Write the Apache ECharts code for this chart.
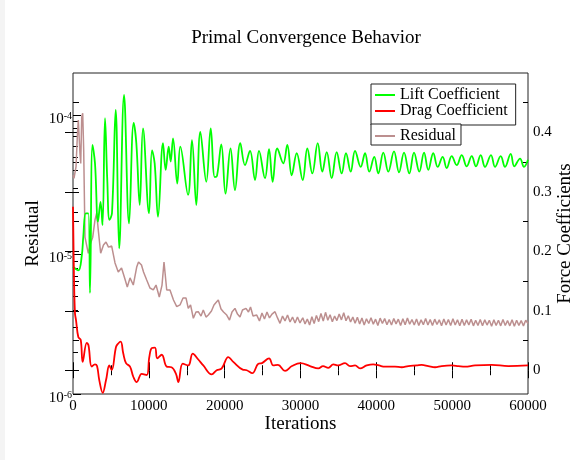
<!DOCTYPE html>
<html>
<head>
<meta charset="utf-8">
<script src="https://cdn.jsdelivr.net/npm/echarts@6/dist/echarts.min.js"></script>
<style>
  html, body { margin: 0; padding: 0; }
  body { background: linear-gradient(to right, #f4f4f4 5px, #ffffff 5px); }
  #chart { width: 571px; height: 460px; }
</style>
</head>
<body>
<div id="chart"></div>
<script>
// Lift coefficient history [iteration, CL]
const liftCoefficient = [
  [0,0.174],[700,0.168],[1150,0.192],[1360,0.225],[1680,0.264],[2020,0.264],[2240,0.130],[2570,0.379],
  [2900,0.348],[3300,0.250],[3630,0.283],[3890,0.244],[4220,0.424],[4520,0.320],[4810,0.253],[5140,0.264],
  [5630,0.438],[6090,0.205],[6730,0.463],[7390,0.247],[8000,0.416],[8350,0.382],[8800,0.278],[9230,0.407],
  [10020,0.264],[10420,0.370],[10770,0.348],[11210,0.258],[11870,0.382],[12220,0.337],[12620,0.376],[12880,0.351],
  [13190,0.390],[13750,0.314],[14150,0.376],[15170,0.295],[15690,0.387],[16260,0.278],[16790,0.401],[17580,0.317],
  [18160,0.407],[18690,0.325],[18990,0.327],[19560,0.380],[20110,0.297],[20770,0.373],[21360,0.303],[22060,0.382],
  [22680,0.345],[23340,0.369],[24000,0.320],[24530,0.369],[25320,0.323],[25850,0.372],[26330,0.317],[26940,0.373],
  [27730,0.348],[28260,0.379],[28840,0.328],[29500,0.365],[30290,0.320],[30900,0.373],[31560,0.331],[32270,0.382],
  [32880,0.334],[33460,0.367],[34110,0.323],[34770,0.367],[35430,0.331],[36000,0.365],[36620,0.334],[37190,0.369],
  [37940,0.342],[38510,0.365],[39070,0.334],[39730,0.359],[40260,0.331],[40920,0.366],[41580,0.334],[42330,0.368],
  [42990,0.333],[43650,0.366],[44350,0.331],[44970,0.366],[45670,0.334],[46290,0.366],[46850,0.337],[47510,0.365],
  [48090,0.342],[48750,0.359],[49280,0.340],[49940,0.360],[50600,0.345],[51260,0.362],[51920,0.343],[52580,0.360],
  [53140,0.343],[53760,0.362],[54330,0.342],[55120,0.362],[55650,0.342],[56400,0.360],[56970,0.342],[57720,0.364],
  [58190,0.343],[58950,0.356],[59470,0.342],[60000,0.354]
];

// Drag coefficient history [iteration, CD]
const dragCoefficient = [
  [0,0.275],[130,0.157],[260,0.096],[400,0.084],[700,0.056],[1020,0.051],[1280,0.014],[1810,0.046],
  [2040,0.042],[2470,0.006],[2900,0.010],[3170,0.007],[3470,-0.017],[3920,-0.038],[4350,-0.017],[4790,0.008],
  [5100,0.000],[5670,0.039],[5970,0.045],[6290,0.048],[6630,0.028],[6990,0.012],[7520,0.006],[7950,-0.011],
  [8400,-0.020],[9060,-0.006],[9720,-0.008],[10060,0.022],[10380,0.037],[10810,0.038],[11120,0.020],[11700,0.026],
  [12360,0.006],[12990,0.005],[13580,-0.006],[13890,-0.020],[14470,0.011],[15200,0.008],[15790,0.028],[16520,0.018],
  [17180,0.008],[18290,-0.007],[18950,0.000],[19610,0.003],[20480,0.022],[21140,0.014],[22380,0.001],[22910,0.000],
  [23640,-0.005],[24440,0.011],[24920,0.012],[25850,0.020],[26410,0.008],[27030,0.009],[27960,-0.001],[28880,0.007],
  [30000,0.012],[31250,0.007],[32350,0.003],[32970,0.007],[33670,0.004],[34330,0.010],[34950,0.008],[35870,0.012],
  [36530,0.007],[37190,0.008],[37850,0.003],[38730,0.008],[39600,0.010],[40350,0.008],[41140,0.006],[42460,0.006],
  [43350,0.005],[44220,0.007],[45320,0.008],[45980,0.009],[46850,0.007],[47740,0.005],[48620,0.007],[49940,0.008],
  [50810,0.007],[51690,0.006],[53010,0.008],[55210,0.009],[57400,0.007],[60000,0.008]
];

// Residual history [iteration, residual]
const residual = [
  [0,3.70e-5],[130,3.52e-5],[400,4.26e-5],[570,6.99e-5],[700,9.2e-5],[920,5.3e-5],[1020,4.5e-5],[1150,9.7e-5],
  [1280,1.03e-4],[1410,5.6e-5],[1580,1.33e-5],[2020,1.02e-5],[2330,1.21e-5],[2600,1.33e-5],[2900,1.77e-5],[3120,1.98e-5],
  [3360,1.45e-5],[3650,1.02e-5],[4020,1.17e-5],[4350,1.23e-5],[4680,1.13e-5],[5100,1.15e-5],[5540,8.7e-6],[5970,7.5e-6],
  [6400,8.0e-6],[6770,6.9e-6],[7160,5.85e-6],[7520,6.8e-6],[7950,6.04e-6],[8400,8.13e-6],[8640,8.84e-6],[9030,8.41e-6],
  [9300,7.5e-6],[9720,6.56e-6],[10150,5.75e-6],[10590,5.57e-6],[10950,6.04e-6],[11380,4.96e-6],[11740,6.04e-6],[12000,8.84e-6],
  [12360,5.57e-6],[12790,5.57e-6],[13250,4.72e-6],[13680,4.23e-6],[14110,4.35e-6],[14510,4.88e-6],[14900,4.88e-6],[15200,4.11e-6],
  [15500,4.35e-6],[15870,3.49e-6],[16220,3.87e-6],[16520,3.89e-6],[16880,3.62e-6],[17180,4.00e-6],[17540,3.56e-6],[17840,3.68e-6],
  [18260,3.94e-6],[18590,4.35e-6],[18920,4.56e-6],[19160,4.72e-6],[19520,4.07e-6],[19850,3.87e-6],[20270,3.68e-6],[20640,3.39e-6],
  [20970,3.87e-6],[21360,4.11e-6],[21690,3.74e-6],[22020,3.56e-6],[22350,4.00e-6],[22810,4.11e-6],[23140,3.87e-6],[23410,4.20e-6],
  [23740,3.62e-6],[24230,3.68e-6],[24590,3.34e-6],[24920,3.81e-6],[25250,3.45e-6],[25580,3.87e-6],[25910,3.51e-6],[26240,3.74e-6],
  [26640,3.89e-6],[26970,3.51e-6],[27300,3.21e-6],[27630,3.62e-6],[27960,3.34e-6],[28290,3.68e-6],[28620,3.28e-6],[28950,3.56e-6],
  [29280,3.23e-6],[29600,3.56e-6],[29930,3.23e-6],[30300,3.52e-6],[30600,3.18e-6],[30900,3.45e-6],[31200,3.12e-6],[31500,3.58e-6],
  [31800,3.20e-6],[32100,3.66e-6],[32400,3.30e-6],[32700,3.78e-6],[33000,3.34e-6],[33300,3.85e-6],[33600,3.38e-6],[33900,3.70e-6],
  [34200,3.30e-6],[34500,3.62e-6],[34800,3.36e-6],[35100,3.74e-6],[35400,3.40e-6],[35700,3.82e-6],[36000,3.35e-6],[36300,3.64e-6],
  [36600,3.28e-6],[36900,3.56e-6],[37200,3.22e-6],[37500,3.55e-6],[37800,3.18e-6],[38100,3.50e-6],[38400,3.12e-6],[38700,3.46e-6],
  [39000,3.20e-6],[39300,3.52e-6],[39600,3.16e-6],[39900,3.44e-6],[40200,3.10e-6],[40500,3.50e-6],[40800,3.20e-6],[41100,3.47e-6],
  [41400,3.14e-6],[41700,3.42e-6],[42000,3.12e-6],[42300,3.48e-6],[42600,3.18e-6],[42900,3.44e-6],[43200,3.10e-6],[43500,3.46e-6],
  [43800,3.14e-6],[44100,3.50e-6],[44400,3.16e-6],[44700,3.42e-6],[45000,3.12e-6],[45300,3.45e-6],[45600,3.10e-6],[45900,3.40e-6],
  [46200,3.14e-6],[46500,3.48e-6],[46800,3.12e-6],[47100,3.42e-6],[47400,3.10e-6],[47700,3.44e-6],[48000,3.15e-6],[48300,3.40e-6],
  [48600,3.08e-6],[48900,3.45e-6],[49200,3.12e-6],[49500,3.42e-6],[49800,3.10e-6],[50100,3.46e-6],[50400,3.12e-6],[50700,3.40e-6],
  [51000,3.08e-6],[51300,3.44e-6],[51600,3.10e-6],[51900,3.40e-6],[52200,3.12e-6],[52500,3.43e-6],[52800,3.08e-6],[53100,3.38e-6],
  [53400,3.10e-6],[53700,3.42e-6],[54000,3.08e-6],[54300,3.40e-6],[54600,3.12e-6],[54900,3.38e-6],[55200,3.06e-6],[55500,3.40e-6],
  [55800,3.10e-6],[56100,3.38e-6],[56400,3.08e-6],[56700,3.42e-6],[57000,3.10e-6],[57300,3.36e-6],[57600,3.08e-6],[57900,3.40e-6],
  [58200,3.06e-6],[58500,3.38e-6],[58800,3.10e-6],[59100,3.36e-6],[59400,3.08e-6],[59700,3.38e-6],[60000,3.20e-6]
];

// Axis tick positions
const residualDecades = [1e-6, 1e-5, 1e-4];
const residualMinorTicks = [2e-6,3e-6,4e-6,5e-6,6e-6,7e-6,8e-6,9e-6,2e-5,3e-5,4e-5,5e-5,6e-5,7e-5,8e-5,9e-5];
const forceTicks = [0, 0.1, 0.2, 0.3, 0.4];
const forceMinorTicks = [0.05, 0.15, 0.25, 0.35, 0.45];

const serif = '"Liberation Serif", "Times New Roman", serif';
const black = '#000';

const chart = echarts.init(document.getElementById('chart'));

const hiddenAxisBits = {
  axisLine: { show: false },
  splitLine: { show: false },
  axisLabel: { show: false }
};

chart.setOption({
  animation: false,
  backgroundColor: 'transparent',
  title: {
    text: 'Primal Convergence Behavior',
    left: 301,
    top: 24,
    textAlign: 'center',
    textStyle: { fontFamily: serif, fontSize: 19, fontWeight: 'normal', color: black }
  },
  legend: [
    {
      data: ['Lift Coefficient', 'Drag Coefficient'],
      orient: 'vertical',
      left: 371, top: 84,
      padding: [3, 8, 6, 4],
      itemGap: 0,
      itemWidth: 20, itemHeight: 2,
      icon: 'rect',
      borderColor: '#222', borderWidth: 1,
      backgroundColor: '#fff',
      selectedMode: false,
      textStyle: { fontFamily: serif, fontSize: 16, color: black, lineHeight: 15 }
    },
    {
      data: ['Residual'],
      orient: 'vertical',
      left: 371, top: 124,
      padding: [4, 5, 1, 4],
      itemGap: 0,
      itemWidth: 20, itemHeight: 2,
      icon: 'rect',
      borderColor: '#222', borderWidth: 1,
      backgroundColor: '#fff',
      selectedMode: false,
      textStyle: { fontFamily: serif, fontSize: 16, color: black, lineHeight: 15 }
    }
  ],
  grid: {
    left: 73, right: 43, top: 73, bottom: 66,
    outerBoundsMode: 'none',
    containLabel: false,
    show: true, borderColor: '#222', borderWidth: 1, backgroundColor: '#fff'
  },
  xAxis: [
    {
      type: 'value', position: 'bottom', min: 0, max: 60000, interval: 10000,
      axisLine: { show: false }, splitLine: { show: false },
      axisTick: { inside: true, length: 8, lineStyle: { color: black } },
      minorTick: { show: true, splitNumber: 2, length: 5, lineStyle: { color: black } },
      axisLabel: { color: black, fontFamily: serif, fontSize: 15, margin: 5, formatter: v => String(v) },
      name: 'Iterations', nameLocation: 'middle', nameGap: 21, nameMoveOverlap: false,
      nameTextStyle: { color: black, fontFamily: serif, fontSize: 19 }
    },
    {
      type: 'value', position: 'top', min: 0, max: 60000, interval: 10000,
      ...hiddenAxisBits,
      axisTick: { inside: true, length: 8, lineStyle: { color: black } },
      minorTick: { show: true, splitNumber: 2, length: 5, lineStyle: { color: black } }
    }
  ],
  yAxis: [
    {
      type: 'log', logBase: 10, position: 'left', min: 1e-6, max: 2e-4,
      axisLine: { show: false }, splitLine: { show: false },
      axisTick: { inside: true, length: 8, customValues: residualDecades, lineStyle: { color: black } },
      axisLabel: {
        customValues: residualDecades,
        margin: 1,
        padding: [8, 0, 0, 0],
        formatter: function (v) {
          const e = Math.log10(v);
          if (Math.abs(e - Math.round(e)) > 1e-6) return '';
          return '{b|10}{s|' + Math.round(e) + '}';
        },
        rich: {
          b: { fontFamily: serif, fontSize: 15, color: black, lineHeight: 15, padding: [8, 0, 0, 0], verticalAlign: 'bottom' },
          s: { fontFamily: serif, fontSize: 10, color: black, lineHeight: 10, verticalAlign: 'top' }
        }
      },
      name: 'Residual', nameLocation: 'middle', nameGap: 30, nameMoveOverlap: false,
      nameTextStyle: { color: black, fontFamily: serif, fontSize: 19 }
    },
    {
      type: 'value', position: 'right', min: -0.04, max: 0.5,
      axisLine: { show: false }, splitLine: { show: false },
      axisTick: { inside: true, length: 8, customValues: forceTicks, lineStyle: { color: black } },
      axisLabel: { customValues: forceTicks, color: black, fontFamily: serif, fontSize: 15, margin: 5 },
      name: 'Force Coefficients', nameLocation: 'middle', nameGap: 28, nameMoveOverlap: false,
      nameTextStyle: { color: black, fontFamily: serif, fontSize: 19 }
    },
    {
      type: 'log', logBase: 10, position: 'left', min: 1e-6, max: 2e-4,
      ...hiddenAxisBits,
      axisTick: { inside: true, length: 5, customValues: residualMinorTicks, lineStyle: { color: black } }
    },
    {
      type: 'value', position: 'left', min: -0.04, max: 0.5,
      ...hiddenAxisBits,
      axisTick: { inside: true, length: 6, customValues: forceTicks.concat(forceMinorTicks), lineStyle: { color: black } }
    },
    {
      type: 'value', position: 'right', min: -0.04, max: 0.5,
      ...hiddenAxisBits,
      axisTick: { inside: true, length: 5, customValues: forceMinorTicks, lineStyle: { color: black } }
    }
  ],
  series: [
    {
      name: 'Residual', type: 'line', xAxisIndex: 0, yAxisIndex: 0,
      data: residual, symbol: 'none',
      lineStyle: { color: '#bc8f8f', width: 1.5 }, itemStyle: { color: '#bc8f8f' }
    },
    {
      name: 'Lift Coefficient', type: 'line', xAxisIndex: 0, yAxisIndex: 1,
      data: liftCoefficient, symbol: 'none', smooth: 0.4,
      lineStyle: { color: '#00ff00', width: 1.8 }, itemStyle: { color: '#00ff00' }
    },
    {
      name: 'Drag Coefficient', type: 'line', xAxisIndex: 0, yAxisIndex: 1,
      data: dragCoefficient, symbol: 'none', smooth: 0.4,
      lineStyle: { color: '#ff0000', width: 1.8 }, itemStyle: { color: '#ff0000' }
    }
  ]
});
</script>
</body>
</html>
